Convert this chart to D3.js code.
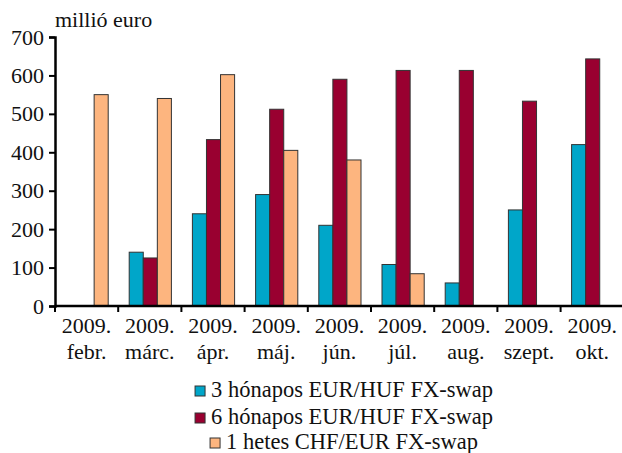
<!DOCTYPE html>
<html>
<head>
<meta charset="utf-8">
<script src="https://cdn.jsdelivr.net/npm/d3@7"></script>
<style>
  body { margin: 0; background: #fff; }
</style>
</head>
<body>
<div id="chart"></div>
<script>
"use strict";

// data
let years = ["2009.", "2009.", "2009.", "2009.", "2009.", "2009.", "2009.", "2009.", "2009."];
let months = ["febr.", "márc.", "ápr.", "máj.", "jún.", "júl.", "aug.", "szept.", "okt."];
let seriesNames = ["3 hónapos EUR/HUF FX-swap", "6 hónapos EUR/HUF FX-swap", "1 hetes CHF/EUR FX-swap"];
let swap3m = [0, 140, 240, 290, 210, 108, 60, 250, 420];
let swap6m = [0, 125, 433, 512, 590, 613, 613, 533, 643];
let swap1w = [550, 540, 602, 405, 380, 84, 0, 0, 0];
let yTicks = [0, 100, 200, 300, 400, 500, 600, 700];
let colors = ["#00a6c9", "#990030", "#fdb57f"];

let fontFamily = "'Liberation Serif', 'Times New Roman', serif";
let width = 622, height = 453;
let margin = { left: 55, right: 0, top: 37, bottom: 147 };

let svg = d3.select("#chart").append("svg")
  .attr("width", width)
  .attr("height", height)
  .style("font-family", fontFamily);

let x = d3.scaleBand()
  .domain(d3.range(months.length))
  .range([margin.left, margin.left + 63.2 * months.length])
  .paddingInner(0)
  .paddingOuter(0);

let inner = d3.scaleBand()
  .domain([0, 1, 2])
  .range([11, x.bandwidth() - 10]);

let y = d3.scaleLinear()
  .domain([0, 700])
  .range([height - margin.bottom, margin.top]);

// bars
let series = [swap3m, swap6m, swap1w];
series.forEach(function(values, s) {
  svg.append("g")
    .selectAll("rect")
    .data(values.map((v, i) => ({ v: v, i: i })).filter(d => d.v > 0))
    .enter().append("rect")
    .attr("x", d => x(d.i) + inner(s))
    .attr("width", inner.bandwidth())
    .attr("y", d => y(d.v))
    .attr("height", d => y(0) - y(d.v))
    .attr("fill", colors[s])
    .attr("stroke", "#333")
    .attr("stroke-width", 1);
});

// y axis
let yAxis = svg.append("g")
  .attr("transform", "translate(" + margin.left + ",0)")
  .call(d3.axisLeft(y).tickValues(yTicks).tickSize(6).tickPadding(5));
yAxis.select(".domain").attr("stroke", "#000").attr("stroke-width", 2.5);
yAxis.selectAll(".tick line").attr("stroke", "#000").attr("stroke-width", 2);
yAxis.selectAll(".tick text")
  .style("font-family", fontFamily)
  .style("font-size", "22px")
  .attr("fill", "#111");

// x axis (ticks between categories)
let xAxisY = y(0);
svg.append("line")
  .attr("x1", margin.left)
  .attr("x2", width)
  .attr("y1", xAxisY)
  .attr("y2", xAxisY)
  .attr("stroke", "#000")
  .attr("stroke-width", 2.5);

svg.append("g")
  .selectAll("line")
  .data(d3.range(months.length + 1))
  .enter().append("line")
  .attr("x1", d => margin.left + d * x.step())
  .attr("x2", d => margin.left + d * x.step())
  .attr("y1", xAxisY)
  .attr("y2", xAxisY + 6)
  .attr("stroke", "#000")
  .attr("stroke-width", 2);

let labels = svg.append("g")
  .selectAll("text")
  .data(months)
  .enter().append("text")
  .attr("text-anchor", "middle")
  .attr("fill", "#111")
  .style("font-size", "22px")
  .attr("x", (d, i) => x(i) + x.bandwidth() / 2);
labels.append("tspan")
  .attr("x", (d, i) => x(i) + x.bandwidth() / 2)
  .attr("y", 333)
  .text((d, i) => years[i]);
labels.append("tspan")
  .attr("x", (d, i) => x(i) + x.bandwidth() / 2)
  .attr("y", 359)
  .text(d => d);

// unit label
svg.append("text")
  .attr("x", 55)
  .attr("y", 27)
  .attr("fill", "#111")
  .style("font-size", "22px")
  .text("millió euro");

// legend, each row centered
let legendCx = 344;
let legendRows = [397, 424, 449];
seriesNames.forEach(function(name, s) {
  let row = svg.append("g");
  let t = row.append("text")
    .attr("x", 16)
    .attr("y", 0)
    .attr("fill", "#111")
    .style("font-size", "22.5px")
    .text(name);
  row.append("rect")
    .attr("x", 0)
    .attr("y", -11)
    .attr("width", 10)
    .attr("height", 10)
    .attr("fill", colors[s])
    .attr("stroke", "#333")
    .attr("stroke-width", 1);
  let w = 16 + t.node().getComputedTextLength();
  row.attr("transform", "translate(" + (legendCx - w / 2) + "," + legendRows[s] + ")");
});
</script>
</body>
</html>
